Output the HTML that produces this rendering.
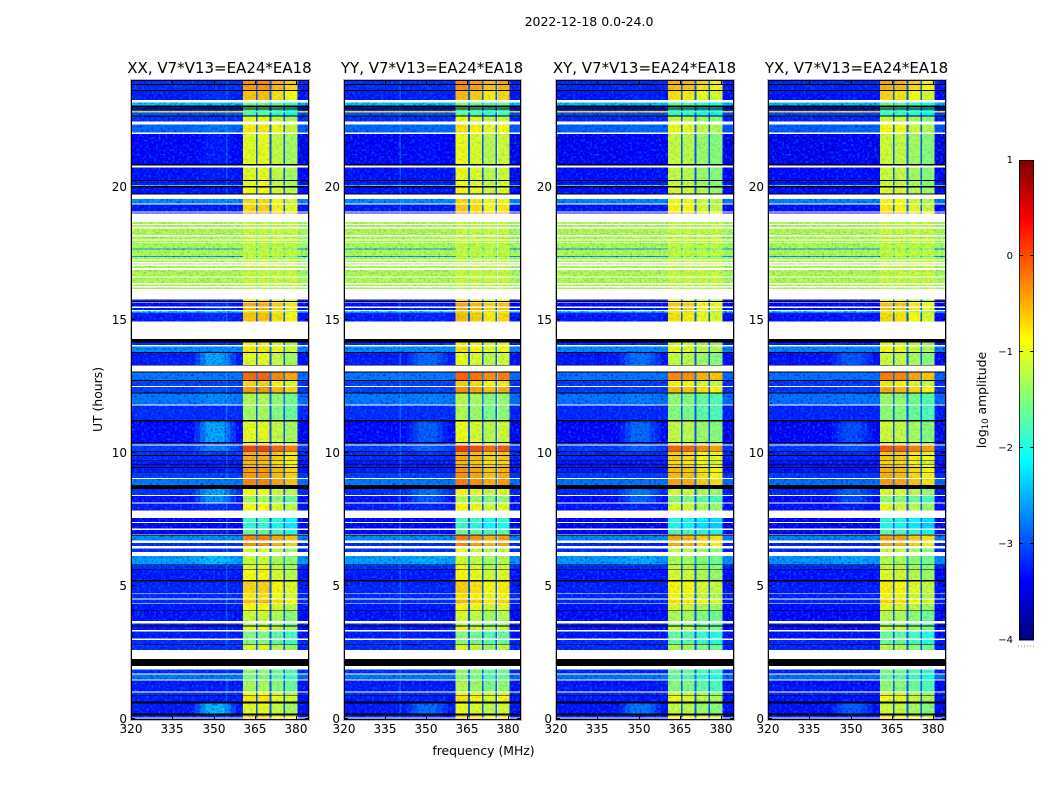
<!DOCTYPE html>
<html lang="en">
<head>
<meta charset="utf-8">
<title>2022-12-18 0.0-24.0</title>
<style>
html,body{margin:0;padding:0;background:#fff;width:1050px;height:800px;overflow:hidden}
svg{display:block}
text{font-family:"DejaVu Sans","Liberation Sans",sans-serif;fill:#000}
</style>
</head>
<body>
<svg id="fig" xmlns="http://www.w3.org/2000/svg" width="1050" height="800" viewBox="0 0 1050 800">
  <defs>
    <filter id="grain-filter" x="0" y="0" width="100%" height="100%" color-interpolation-filters="sRGB">
      <feTurbulence type="fractalNoise" baseFrequency="0.42" numOctaves="2" seed="4" stitchTiles="stitch" result="n"/>
      <feColorMatrix in="n" type="matrix" values="0 0 0 0 0  0 0 0 0 0.5  0 0 0 0 1  3.5 0 0 0 -1.75" result="light"/>
      <feColorMatrix in="n" type="matrix" values="0 0 0 0 0  0 0 0 0 0  0 0 0 0 0.7  0 3.5 0 0 -1.75" result="dark"/>
      <feMerge><feMergeNode in="dark"/><feMergeNode in="light"/></feMerge>
    </filter>
    <pattern id="grain" patternUnits="userSpaceOnUse" width="192" height="192">
      <rect width="192" height="192" filter="url(#grain-filter)"/>
    </pattern>
  </defs>
  <text x="589" y="26" text-anchor="middle" font-size="12.5">2022-12-18 0.0-24.0</text>
  <text x="483.5" y="755" text-anchor="middle" font-size="12.4">frequency (MHz)</text>
  <text transform="translate(102 399.5) rotate(-90)" text-anchor="middle" font-size="12.4">UT (hours)</text>
  <text transform="translate(986 400) rotate(-90)" text-anchor="middle" font-size="12.4">log<tspan font-size="8.5" dy="2">10</tspan><tspan dy="-2"> amplitude</tspan></text>
  <g id="panels"></g>
  <g id="colorbar"></g>
</svg>
<script>
const W = null, F = -9; // W: flagged (no data, white); F: zero amplitude (black)

const panelTitles = ["XX, V7*V13=EA24*EA18", "YY, V7*V13=EA24*EA18", "XY, V7*V13=EA24*EA18", "YX, V7*V13=EA24*EA18"];
const xTicks = [320, 335, 350, 365, 380];
const yTicks = [0, 5, 10, 15, 20];
const colorTicks = [-4, -3, -2, -1, 0, 1];

// lower edge (UT hours) of each time band, reading from the top (24 h) down
const bandBottomUT = [
23.89,23.85,23.66,23.63,23.29,23.19,23.07,23.01,22.96,22.93,
22.88,22.82,22.70,22.67,22.47,22.37,22.06,22.01,20.88,20.82,
20.74,20.27,20.24,20.09,20.05,20.00,19.77,19.73,19.57,19.40,
19.36,19.10,19.06,19.01,18.70,18.62,18.58,18.51,18.45,18.21,
18.15,18.04,18.00,17.93,17.91,17.70,17.66,17.41,17.38,17.29,
17.24,17.19,17.14,17.09,17.04,16.97,16.89,16.65,16.60,16.40,
16.35,16.29,16.24,16.17,15.79,15.73,15.69,15.66,15.51,15.47,
15.39,15.35,15.29,14.96,14.30,14.17,14.07,14.02,13.80,13.76,
13.32,13.29,13.08,13.04,12.75,12.72,12.53,12.49,12.28,12.25,
11.84,11.79,11.25,11.19,10.42,10.38,10.32,10.28,10.09,10.06,
9.93,9.89,9.73,9.70,9.60,9.57,9.48,9.45,9.30,9.27,
9.07,9.03,8.80,8.65,8.43,8.39,8.14,8.10,7.84,7.57,
7.41,7.37,7.16,7.11,6.95,6.91,6.72,6.63,6.51,6.42,
6.28,6.13,5.82,5.79,5.63,5.60,5.22,5.18,4.73,4.70,
4.53,4.50,4.35,4.32,4.09,4.06,3.69,3.60,3.51,3.48,
3.35,3.30,3.02,2.97,2.83,2.80,2.60,2.26,2.00,1.87,
1.71,1.67,1.49,1.44,1.03,0.99,0.89,0.86,0.66,0.59,
0.21,0.14,0.06,0.02,0
];

// log10 amplitude of the off-band background in each time band
const backgroundLog = [
-3,F,-3,F,-3.1,W,-2.2,F,-3,F,
-3,-.7,-2.8,F,-3,W,-2.7,W,-3.25,F,
W,-3.15,F,-3.15,-2,F,-3.15,F,W,-2.5,
W,-3.1,W,-3.1,W,-1.25,W,-1.25,W,-1.25,
W,-1.25,W,-1.25,W,-1.25,-2.4,-1.25,-2.4,-1.25,
W,-1.25,W,-1.25,W,-1.25,W,-1.25,W,-1.25,
W,-1.25,W,-1.25,W,-3.1,F,W,-3.15,W,
-3.15,W,-2,-3.1,W,F,-3,W,-2.5,F,
-3.1,F,W,F,-2.6,F,-2.9,W,-2.9,F,
-2.6,W,-3,F,-3.2,F,-3,W,-2.9,F,
-3,F,-3,F,-3.1,F,-3.1,F,-3.1,F,
-2.9,W,-2.6,F,-3,W,-3.15,W,-3.1,W,
-3.2,W,-3.2,W,-3.2,F,-2.5,W,-3,W,
-3,W,-2.4,F,-3,F,-3.1,F,-3.05,W,
-3,W,-3,W,-3.1,F,-3.15,W,-3.1,F,
-3.1,W,-3.1,W,-3,F,-3,W,F,W,
-3,W,-2.6,W,-3.1,W,-3,F,-3.1,F,
-3.1,F,-3,W,-3
];

// log10 amplitude of the broad bump around 347-356 MHz in each time band
const bumpLog = [
-3,F,-3,F,-3,W,-2.2,F,-3,F,
-3,-.7,-2.8,F,-3,W,-2.6,W,-3.1,F,
W,-3.1,F,-3.15,-2,F,-3.15,F,W,-2.5,
W,-3.1,W,-3.1,W,-1.25,W,-1.25,W,-1.25,
W,-1.25,W,-1.25,W,-1.25,-2.4,-1.25,-2.4,-1.25,
W,-1.25,W,-1.25,W,-1.25,W,-1.25,W,-1.25,
W,-1.25,W,-1.25,W,-3.1,F,W,-3,W,
-3,W,-2,-3,W,F,-3,W,-2.5,F,
-2.3,F,W,F,-2.6,F,-2.9,W,-2.8,F,
-2.5,W,-3,F,-2.3,F,-3,W,-2.5,F,
-2.9,F,-3,F,-3.1,F,-3.1,F,-3.1,F,
-2.9,W,-2.6,F,-2.3,W,-2.4,W,-3,W,
-3.2,W,-3.2,W,-3.1,F,-2.5,W,-3,W,
-3,W,-2.2,F,-3,F,-3.1,F,-3.05,W,
-3,W,-3,W,-3.1,F,-3.1,W,-3.1,F,
-3.1,W,-3.1,W,-3,F,-3,W,F,W,
-3,W,-2.6,W,-3.1,W,-3,F,-3.1,F,
-2.2,F,-3,W,-3
];

// log10 amplitude of the strong 360-380 MHz spectral windows in each time band
const blockLog = [
-.35,F,-.4,F,-.6,W,-1.5,F,-1.5,F,
-1.8,-1.6,-1.7,F,-1,W,-.8,W,-1,F,
W,-1,F,-1,-.9,F,-.9,F,W,-.75,
W,-.7,W,-.4,W,-1.15,W,-1.15,W,-1.15,
W,-1.15,W,-1.15,W,-1.15,-1.3,-1.15,-1.3,-1.15,
W,-1.15,W,-1.15,W,-1.15,W,-1.15,W,-1.15,
W,-1.15,W,-1.15,W,-.8,F,W,-.5,W,
-.5,W,-.8,-.6,W,F,-.9,W,-.8,F,
-1,F,W,F,-.15,F,-.7,W,-.4,F,
-1.25,W,-1.3,F,-1,F,-1,W,.05,F,
-.5,F,-.5,F,-.6,F,-.5,F,-.4,F,
-.4,W,-.3,F,-.9,W,-1.3,W,-.9,W,
-1.8,W,-1.9,W,-1.6,F,-.3,W,-.35,W,
-1,W,-1.1,F,-1,F,-.9,F,-.7,W,
-.8,W,-.6,W,-.9,F,-1.1,W,-1.3,F,
-1,W,-1.5,W,-1.5,F,-1.1,W,F,W,
-1.4,W,-1.5,W,-1.3,W,-.9,F,-.8,F,
-1,F,-.7,W,-.6
];

// level change of each of the four windows, by polarization panel
const blockOffsetXX = [0, 0.02, -0.15, -0.3];
const blockOffsetYY = [0.05, -0.05, -0.2, -0.1];
const blockOffsetXY = [-0.15, -0.2, -0.35, -0.45];
const blockOffsetYX = [-0.1, -0.15, -0.3, -0.45];
const backgroundOffset = [-0.17, -0.17, -0.2, -0.22];
const bumpWeight = [0.95, 0.5, 0.6, 0.45];
const bumpProfileMHz = [343, 345, 347, 354, 356, 358];
const bumpProfileWeight = [0.3, 0.65, 1, 0.65, 0.3];
const rfiLineMHz = [354.5, 340.3, W, W];

const windowEdgesMHz = [360.7, 365.3, 365.9, 370.3, 370.9, 375.3, 375.9, 380.3];
const xMaxMHz = 384.2, utMax = 24, gapLog = -2.95;

const NS = 'http://www.w3.org/2000/svg';
const panelLeft = [131, 344, 556, 768];
const panelWidth = [177, 176, 177, 177];
const panelTop = 81, panelBottom = 719;

function xScale(p, f) { return panelLeft[p] + (f - 320) * panelWidth[p] / (xMaxMHz - 320); }
function yScale(u) { return panelBottom - u * (panelBottom - panelTop) / utMax; }
function jet(t) {
  const c = v => Math.round(255 * Math.max(0, Math.min(1, v)));
  return 'rgb(' + c(Math.min(4 * t - 1.5, -4 * t + 4.5)) + ',' + c(Math.min(4 * t - 0.5, -4 * t + 3.5)) + ',' + c(Math.min(4 * t + 0.5, -4 * t + 2.5)) + ')';
}
function colorOf(v) { return jet((v + 4) / 5); }
function add(parent, tag, attrs) {
  const el = document.createElementNS(NS, tag);
  for (const k in attrs) el.setAttribute(k, attrs[k]);
  parent.appendChild(el);
  return el;
}

function cellRect(g, x0, x1, y0, y1, fill) {
  const el = add(g, 'rect', { x: x0.toFixed(2), y: y0.toFixed(2), width: (x1 - x0).toFixed(2), height: (y1 - y0).toFixed(2), fill: fill, 'shape-rendering': 'crispEdges' });
  
  
  return el;
}

function drawPanel(p) {
  const g = add(document.getElementById('panels'), 'g', {});
  
  
  const offsets = [blockOffsetXX, blockOffsetYY, blockOffsetXY, blockOffsetYX][p];
  const L = panelLeft[p], R = L + panelWidth[p] + 1;
  let top = utMax;
  bandBottomUT.forEach((bottom, i) => {
    const y0 = yScale(top), y1 = bottom === 0 ? panelBottom + 1 : yScale(bottom);
    top = bottom;
    const bg = backgroundLog[i];
    if (bg === W) return;
    if (bg === F) { cellRect(g, L, R, y0, y1, '#000'); return; }
    const noisy = bg > -1.6;
    const strong = bg > -2.1;
    const base = strong ? bg : bg + backgroundOffset[p];
    const bumpTop = strong ? bumpLog[i] : bg + (bumpLog[i] - bg) * bumpWeight[p] + backgroundOffset[p];
    const X = f => xScale(p, f);
    cellRect(g, L, X(bumpProfileMHz[0]), y0, y1, colorOf(base));
    bumpProfileWeight.forEach((w, s) => {
      cellRect(g, X(bumpProfileMHz[s]), X(bumpProfileMHz[s + 1]), y0, y1, colorOf(base + (bumpTop - base) * w));
    });
    cellRect(g, X(bumpProfileMHz[5]), X(windowEdgesMHz[0]), y0, y1, colorOf(base));
    for (let w = 0; w < 4; w++) {
      const lvl = blockLog[i] + (noisy ? 0 : offsets[w]);
      cellRect(g, X(windowEdgesMHz[2 * w]), X(windowEdgesMHz[2 * w + 1]), y0, y1, colorOf(lvl));
      if (w < 3) {
        cellRect(g, X(windowEdgesMHz[2 * w + 1]), X(windowEdgesMHz[2 * w + 2]), y0, y1, colorOf(Math.max(gapLog, noisy ? -1.4 : base)));
      }
    }
    cellRect(g, X(windowEdgesMHz[7]), R, y0, y1, colorOf(base - 0.05));
    if (rfiLineMHz[p] !== W && !noisy) {
      const line = cellRect(g, X(rfiLineMHz[p]), X(rfiLineMHz[p]) + 1.2, y0, y1, colorOf(-2.4));
      line.setAttribute('opacity', '0.4');
    }
    const grain = cellRect(g, L, X(windowEdgesMHz[0]), y0, y1, 'url(#grain)');
    grain.setAttribute('opacity', noisy ? '0.22' : '0.6');
    
    const grainBlock = cellRect(g, X(windowEdgesMHz[0]), X(windowEdgesMHz[7]), y0, y1, 'url(#grain)');
    grainBlock.setAttribute('opacity', '0.16');
    
    const grainRight = cellRect(g, X(windowEdgesMHz[7]), R, y0, y1, 'url(#grain)');
    grainRight.setAttribute('opacity', noisy ? '0.22' : '0.6');
    
  });

  const halo = add(g, 'rect', { x: L - 0.5, y: panelTop - 1.5, width: panelWidth[p] + 2, height: panelBottom - panelTop + 3, fill: 'none', stroke: '#b8b8b8', 'stroke-width': 1 });
  
  
  const frame = add(g, 'rect', { x: L + 0.5, y: panelTop - 0.5, width: panelWidth[p], height: panelBottom - panelTop + 1, fill: 'none', stroke: '#000', 'stroke-width': 1 });
  
  

  xTicks.forEach(t => {
    const x = Math.round(xScale(p, t)) + 0.5;
    const up = add(g, 'line', { x1: x, x2: x, y1: panelBottom + 1, y2: panelBottom - 3, stroke: '#000' });
    
    
    const down = add(g, 'line', { x1: x, x2: x, y1: panelTop, y2: panelTop + 4, stroke: '#000' });
    
    
    const label = add(g, 'text', { x: x - 0.5, y: panelBottom + 14, 'text-anchor': 'middle', 'font-size': 12 });
    label.textContent = t;
    
    
  });
  yTicks.forEach(t => {
    const y = Math.round(yScale(t)) - 0.5;
    const left = add(g, 'line', { x1: L, x2: L + 4, y1: y, y2: y, stroke: '#000' });
    
    
    const right = add(g, 'line', { x1: R, x2: R - 4, y1: y, y2: y, stroke: '#000' });
    
    
    const label = add(g, 'text', { x: L - 4, y: y + 4.5, 'text-anchor': 'end', 'font-size': 12 });
    label.textContent = t;
    
    
  });
  const title = add(g, 'text', { x: L + panelWidth[p] / 2, y: 73, 'text-anchor': 'middle', 'font-size': 15 });
  title.textContent = panelTitles[p];
  
  
}

function drawColorbar() {
  const g = document.getElementById('colorbar');
  const cx0 = 1019, cx1 = 1034, cTop = 160, cBot = 640;
  const cScale = v => cBot - (v + 4) * (cBot - cTop) / 5;
  for (let s = 0; s < 240; s++) {
    const v0 = -4 + s * 5 / 240, v1 = -4 + (s + 1) * 5 / 240;
    const r = add(g, 'rect', { x: cx0, y: cScale(v1), width: cx1 - cx0, height: cScale(v0) - cScale(v1) + 0.5, fill: colorOf((v0 + v1) / 2), 'shape-rendering': 'crispEdges' });
    
    
  }
  const frame = add(g, 'rect', { x: cx0 + 0.5, y: cTop + 0.5, width: cx1 - cx0 - 1, height: cBot - cTop - 1, fill: 'none', stroke: '#000', 'stroke-opacity': 0.75 });
  
  
  colorTicks.forEach(t => {
    const y = Math.round(cScale(t)) - (t === 1 ? -0.5 : 0.5);
    const a = add(g, 'line', { x1: cx0, x2: cx0 + 4, y1: y, y2: y, stroke: '#000' });
    
    
    const b = add(g, 'line', { x1: cx1, x2: cx1 - 4, y1: y, y2: y, stroke: '#000' });
    
    
    const label = add(g, 'text', { x: 1013, y: y + (t === 1 ? 2.5 : 3.5), 'text-anchor': 'end', 'font-size': 10 });
    label.textContent = String(t).replace('-', '\u2212');
    
    
  });
  const dots = add(g, 'line', { x1: cx0 - 1, x2: cx1 + 1, y1: 646, y2: 646, stroke: '#888', 'stroke-dasharray': '1 2' });
  
  
}

panelTitles.forEach((_, p) => drawPanel(p));
drawColorbar();
</script>
</body>
</html>
